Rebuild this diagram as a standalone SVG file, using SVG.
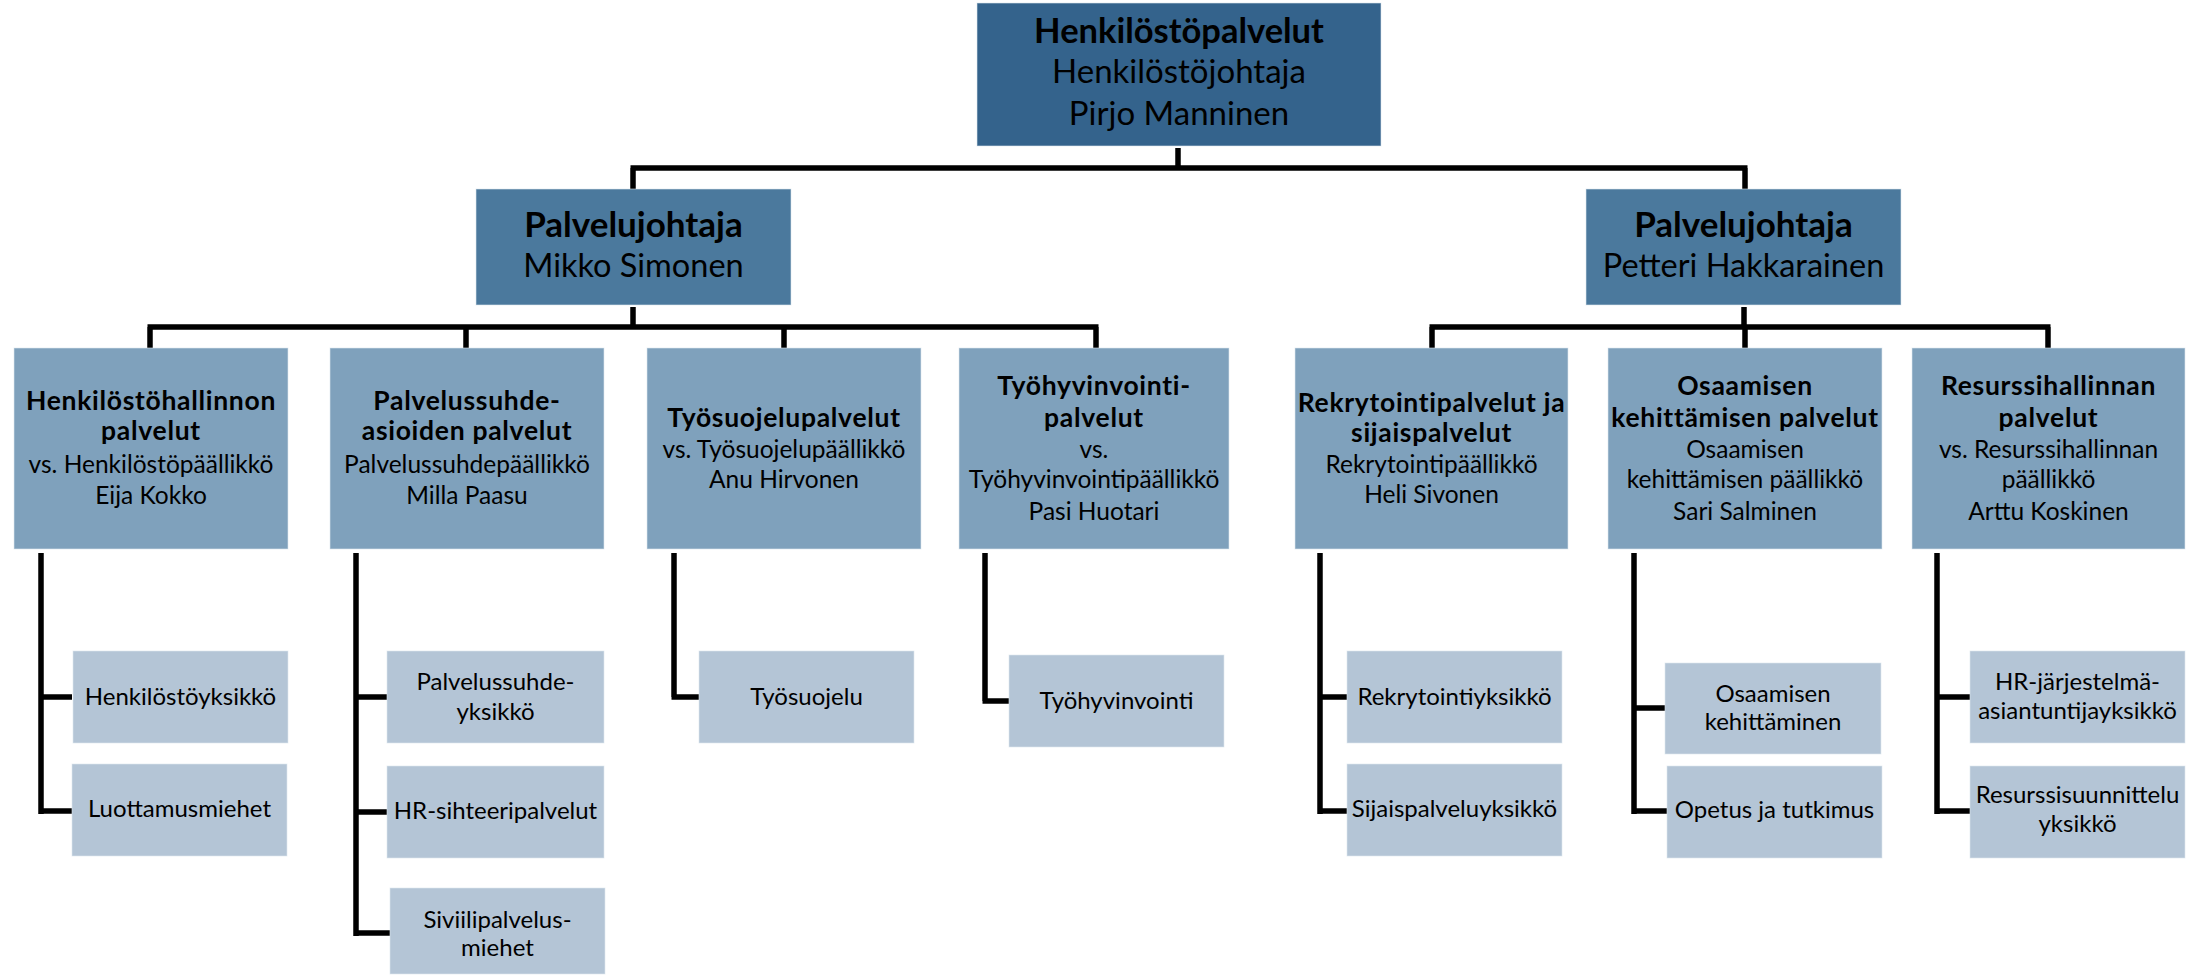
<svg xmlns="http://www.w3.org/2000/svg" width="2204" height="977" viewBox="0 0 2204 977">
<style>
.bx{stroke:#dfe7ef;stroke-width:1;stroke-opacity:0.6}
.l0{fill:#34638C}
.l1{fill:#4B799D}
.l2{fill:#7FA1BC}
.l3{fill:#B4C5D6}
text{font-family:Lato,"Liberation Sans",sans-serif;fill:#000;text-anchor:middle}
.b{font-weight:bold}
.f0{font-size:33px}
.f0.b{font-size:34.5px}
.f1{font-size:32.5px}
.f1.b{font-size:35px}
.f2{font-size:24.5px}
.f2.b{font-size:26.5px;letter-spacing:0.7px}
.f3{font-size:24px}
.conn path{stroke:#000;stroke-width:5.5;fill:none;stroke-linejoin:miter;stroke-linecap:butt}
</style>
<rect width="2204" height="977" fill="#ffffff"/>
<g class="conn" id="connectors">
<path d="M1178,148 V168 M630.5,168 H1747.5 M633,168 V189 M1745,168 V189"/>
<path d="M633,307 V327 M147.5,327 H1098.5 M150,327 V348 M466,327 V348 M784,327 V348 M1096,327 V348"/>
<path d="M1744,307 V327 M1429.5,327 H2050.5 M1432,327 V348 M1745,327 V348 M2048,327 V348"/>
<path d="M41,553 V814 M38.5,697 H72 M38.5,811 H72"/>
<path d="M356,553 V936 M353.5,697 H387 M353.5,812 H387 M353.5,933 H390"/>
<path d="M674,553 V697 M671.5,697 H699"/>
<path d="M985,553 V701 M982.5,701 H1009"/>
<path d="M1320,553 V814 M1317.5,697 H1347 M1317.5,811 H1347"/>
<path d="M1634,553 V814 M1631.5,708 H1665 M1631.5,811 H1667"/>
<path d="M1937,553 V814 M1934.5,697 H1970 M1934.5,811 H1970"/>
</g>
<g id="n-henkilostopalvelut">
<rect class="bx l0" x="977" y="3" width="404" height="143"/>
<text class="f0 b" x="1179" y="43">Henkilöstöpalvelut</text>
<text class="f0" x="1179" y="83">Henkilöstöjohtaja</text>
<text class="f0" x="1179" y="125">Pirjo Manninen</text>
</g>
<g id="n-palvelujohtaja-mikko">
<rect class="bx l1" x="476" y="189" width="315" height="116"/>
<text class="f1 b" x="633.5" y="237">Palvelujohtaja</text>
<text class="f1" x="633.5" y="277">Mikko Simonen</text>
</g>
<g id="n-palvelujohtaja-petteri">
<rect class="bx l1" x="1586" y="189" width="315" height="116"/>
<text class="f1 b" x="1743.5" y="237">Palvelujohtaja</text>
<text class="f1" x="1743.5" y="277">Petteri Hakkarainen</text>
</g>
<g id="n-henkilostohallinnon">
<rect class="bx l2" x="14" y="348" width="274" height="201"/>
<text class="f2 b" x="151" y="410">Henkilöstöhallinnon</text>
<text class="f2 b" x="151" y="440">palvelut</text>
<text class="f2" x="151" y="473">vs. Henkilöstöpäällikkö</text>
<text class="f2" x="151" y="504">Eija Kokko</text>
</g>
<g id="n-palvelussuhde">
<rect class="bx l2" x="330" y="348" width="274" height="201"/>
<text class="f2 b" x="467" y="410">Palvelussuhde-</text>
<text class="f2 b" x="467" y="440">asioiden palvelut</text>
<text class="f2" x="467" y="473">Palvelussuhdepäällikkö</text>
<text class="f2" x="467" y="504">Milla Paasu</text>
</g>
<g id="n-tyosuojelupalvelut">
<rect class="bx l2" x="647" y="348" width="274" height="201"/>
<text class="f2 b" x="784" y="427">Työsuojelupalvelut</text>
<text class="f2" x="784" y="458">vs. Työsuojelupäällikkö</text>
<text class="f2" x="784" y="488">Anu Hirvonen</text>
</g>
<g id="n-tyohyvinvointipalvelut">
<rect class="bx l2" x="959" y="348" width="270" height="201"/>
<text class="f2 b" x="1094" y="395">Työhyvinvointi-</text>
<text class="f2 b" x="1094" y="427">palvelut</text>
<text class="f2" x="1094" y="458">vs.</text>
<text class="f2" x="1094" y="488">Työhyvinvointipäällikkö</text>
<text class="f2" x="1094" y="520">Pasi Huotari</text>
</g>
<g id="n-rekrytointipalvelut">
<rect class="bx l2" x="1295" y="348" width="273" height="201"/>
<text class="f2 b" x="1431.5" y="412">Rekrytointipalvelut ja</text>
<text class="f2 b" x="1431.5" y="442">sijaispalvelut</text>
<text class="f2" x="1431.5" y="473">Rekrytointipäällikkö</text>
<text class="f2" x="1431.5" y="503">Heli Sivonen</text>
</g>
<g id="n-osaamisen-kehittamisen-palvelut">
<rect class="bx l2" x="1608" y="348" width="274" height="201"/>
<text class="f2 b" x="1745" y="395">Osaamisen</text>
<text class="f2 b" x="1745" y="427">kehittämisen palvelut</text>
<text class="f2" x="1745" y="458">Osaamisen</text>
<text class="f2" x="1745" y="488">kehittämisen päällikkö</text>
<text class="f2" x="1745" y="520">Sari Salminen</text>
</g>
<g id="n-resurssihallinnan">
<rect class="bx l2" x="1912" y="348" width="273" height="201"/>
<text class="f2 b" x="2048.5" y="395">Resurssihallinnan</text>
<text class="f2 b" x="2048.5" y="427">palvelut</text>
<text class="f2" x="2048.5" y="458">vs. Resurssihallinnan</text>
<text class="f2" x="2048.5" y="488">päällikkö</text>
<text class="f2" x="2048.5" y="520">Arttu Koskinen</text>
</g>
<g id="n-henkilostoyksikko">
<rect class="bx l3" x="73" y="651" width="215" height="92"/>
<text class="f3" x="180.5" y="705">Henkilöstöyksikkö</text>
</g>
<g id="n-luottamusmiehet">
<rect class="bx l3" x="72" y="764" width="215" height="92"/>
<text class="f3" x="179.5" y="817">Luottamusmiehet</text>
</g>
<g id="n-palvelussuhdeyksikko">
<rect class="bx l3" x="387" y="651" width="217" height="92"/>
<text class="f3" x="495.5" y="690">Palvelussuhde-</text>
<text class="f3" x="495.5" y="720">yksikkö</text>
</g>
<g id="n-hr-sihteeripalvelut">
<rect class="bx l3" x="387" y="766" width="217" height="92"/>
<text class="f3" x="495.5" y="819">HR-sihteeripalvelut</text>
</g>
<g id="n-siviilipalvelusmiehet">
<rect class="bx l3" x="390" y="888" width="215" height="86"/>
<text class="f3" x="497.5" y="928">Siviilipalvelus-</text>
<text class="f3" x="497.5" y="956">miehet</text>
</g>
<g id="n-tyosuojelu">
<rect class="bx l3" x="699" y="651" width="215" height="92"/>
<text class="f3" x="806.5" y="705">Työsuojelu</text>
</g>
<g id="n-tyohyvinvointi">
<rect class="bx l3" x="1009" y="655" width="215" height="92"/>
<text class="f3" x="1116.5" y="709">Työhyvinvointi</text>
</g>
<g id="n-rekrytointiyksikko">
<rect class="bx l3" x="1347" y="651" width="215" height="92"/>
<text class="f3" x="1454.5" y="705">Rekrytointiyksikkö</text>
</g>
<g id="n-sijaispalveluyksikko">
<rect class="bx l3" x="1347" y="764" width="215" height="92"/>
<text class="f3" x="1454.5" y="817">Sijaispalveluyksikkö</text>
</g>
<g id="n-osaamisen-kehittaminen">
<rect class="bx l3" x="1665" y="663" width="216" height="91"/>
<text class="f3" x="1773" y="702">Osaamisen</text>
<text class="f3" x="1773" y="730">kehittäminen</text>
</g>
<g id="n-opetus-ja-tutkimus">
<rect class="bx l3" x="1667" y="766" width="215" height="92"/>
<text class="f3" x="1774.5" y="818">Opetus ja tutkimus</text>
</g>
<g id="n-hr-jarjestelma">
<rect class="bx l3" x="1970" y="651" width="215" height="92"/>
<text class="f3" x="2077.5" y="690">HR-järjestelmä-</text>
<text class="f3" x="2077.5" y="719">asiantuntijayksikkö</text>
</g>
<g id="n-resurssisuunnittelu">
<rect class="bx l3" x="1970" y="766" width="215" height="92"/>
<text class="f3" x="2077.5" y="803">Resurssisuunnittelu</text>
<text class="f3" x="2077.5" y="832">yksikkö</text>
</g>
</svg>
